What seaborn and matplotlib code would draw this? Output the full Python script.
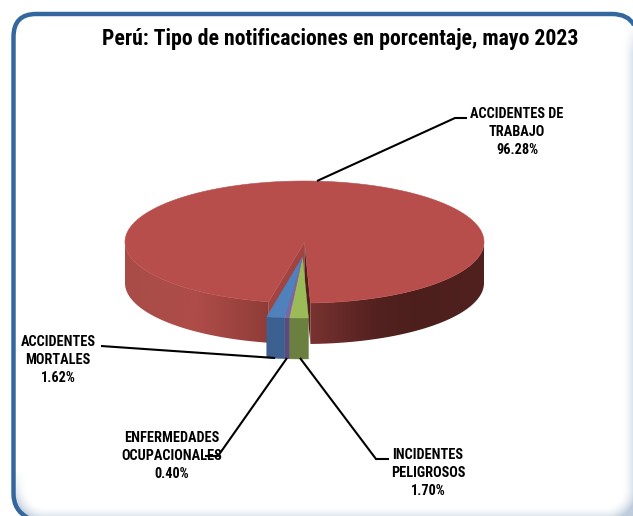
import numpy as np
import seaborn as sns
import matplotlib
matplotlib.use("Agg")
import matplotlib.pyplot as plt
from matplotlib.path import Path
from matplotlib.patches import PathPatch, Polygon
from matplotlib.colors import LinearSegmentedColormap

# ---- data ----
title = "Perú: Tipo de notificaciones en porcentaje, mayo 2023"
categories = ["ACCIDENTES DE\nTRABAJO", "ACCIDENTES\nMORTALES",
              "ENFERMEDADES\nOCUPACIONALES", "INCIDENTES\nPELIGROSOS"]
values = [96.28, 1.62, 0.40, 1.70]
value_labels = ["96.28%", "1.62%", "0.40%", "1.70%"]

# ---- style ----
sns.set_theme(style="white")
FONT = ["Roboto Condensed", "Roboto", "Liberation Sans", "DejaVu Sans"]
plt.rcParams["font.family"] = FONT
top_colors = sns.color_palette(["#b84e4b", "#4f81bd", "#8064a2", "#9bbb59"])
front_colors = sns.color_palette(["#7a3330", "#3c6190", "#5f4a7a", "#6b8040"])

W, H = 633, 516
fig = plt.figure(figsize=(W / 100, H / 100), dpi=100, facecolor="white")
ax = fig.add_axes([0, 0, 1, 1])
ax.set_xlim(0, W)
ax.set_ylim(H, 0)
ax.axis("off")

# ---- frame shadow ----
yy, xx = np.mgrid[0:H, 0:W] + 0.5
rx0, rx1, ry0, ry1, rad = 13.0, 637.0, -100.0, 521.0, 32.0
qx = np.maximum(np.maximum(rx0 + rad - xx, xx - (rx1 - rad)), 0)
qy = np.maximum(ry0 + rad - yy, yy - (ry1 - rad))
qy = np.maximum(qy, 0)
dist = rad - np.hypot(qx, qy)
alpha = np.clip(1 - dist / 15, 0, 1) ** 1.8 * 0.5
alpha *= np.where(xx > 320, 1, np.clip((yy - 470) / 30, 0, 1))
alpha *= np.clip((yy - 24) / 30, 0, 1)
alpha[(xx < 40) & (dist < 0)] = 0
shadow = np.zeros((H, W, 4))
shadow[..., :3] = matplotlib.colors.to_rgb("#7f99b8")
shadow[..., 3] = alpha
ax.imshow(shadow, extent=(0, W, H, 0), zorder=0, aspect="auto", interpolation="bilinear")

# frame stroke
frame = Path(
    [(634, 25), (628, 14), (612, 14), (36, 14), (13.5, 14), (13.5, 37),
     (13.5, 494), (13.5, 510), (28, 518)],
    [Path.MOVETO, Path.CURVE3, Path.CURVE3, Path.LINETO, Path.CURVE3, Path.CURVE3,
     Path.LINETO, Path.CURVE3, Path.CURVE3])
ax.add_patch(PathPatch(frame, fc="none", ec="#34679e", lw=3.2, zorder=1, capstyle="butt"))

# ---- 3D pie geometry derived from the values ----
cx, cy, erx, ery, depth = 304.5, 242.0, 179.5, 61.0, 41.0
off_x, off_y = -2.0, 15.0
front_edge = 1.9  # degrees from the front direction, towards the right
sweeps = np.array(values) / sum(values) * 360.0


def arc(phi0, phi1, dy=0.0, dx=0.0, n=200):
    p = np.radians(np.linspace(phi0, phi1, n))
    return np.column_stack([cx + dx + erx * np.sin(p), cy + dy + ery * np.cos(p)])


right_edge = front_edge
left_edge = front_edge - sum(sweeps[1:])
top_red = arc(right_edge, left_edge + 360, n=500)
apex = np.array([cx, cy])

# cut faces of the notch
e_l = arc(left_edge, left_edge, n=1)[0]
e_r = arc(right_edge, right_edge, n=1)[0]
d = np.array([0, depth])
ax.add_patch(Polygon([apex, e_l, e_l + d, apex + d], fc="#a04341", ec="none", zorder=2))
ax.add_patch(Polygon([apex, e_r, e_r + d, apex + d], fc="#4f1f1c", ec="none", zorder=2.1))

# red side wall with a left-to-right shading
side_cmap = LinearSegmentedColormap.from_list(
    "side",
    [(0.00, "#a94c48"), (0.20, "#ae4c48"), (0.40, "#8f3c38"), (0.51, "#7a3330"),
     (0.70, "#522120"), (0.82, "#4d1f1c"), (1.00, "#50211f")])
grad = np.linspace(0, 1, 512)[None, :]
for a, b in ((right_edge, 90), (left_edge, -90)):
    wall = np.vstack([arc(a, b), arc(b, a, dy=depth)])
    img = ax.imshow(grad, extent=(cx - erx, cx + erx, 360, 200), cmap=side_cmap,
                    aspect="auto", zorder=3, vmin=0, vmax=1)
    img.set_clip_path(Polygon(wall, transform=ax.transData))

# red top face
ax.add_patch(Polygon(np.vstack([apex, top_red]), fc=top_colors[0], ec=top_colors[0],
                     lw=0.4, zorder=4))

# exploded small slices
phi = front_edge
order = [3, 2, 1]
for i in order:
    a, b = phi, phi - sweeps[i]
    phi = b
    top_arc = arc(a, b, dy=off_y, dx=off_x, n=30)
    low_arc = arc(b, a, dy=off_y + depth, dx=off_x, n=30)
    ax.add_patch(Polygon(np.vstack([top_arc, low_arc]), fc=front_colors[i],
                         ec=front_colors[i], lw=0.3, zorder=5))
    tip = apex + np.array([off_x, off_y])
    ax.add_patch(Polygon(np.vstack([tip, top_arc]), fc=top_colors[i],
                         ec=top_colors[i], lw=0.3, zorder=6))

# ---- leader lines ----
leaders = [
    [(317, 181), (455, 118), (467, 118)],
    [(101, 346), (275, 358)],
    [(287, 358), (218, 456), (205, 456)],
    [(300, 358), (376, 459), (389, 459)],
]
for pts in leaders:
    xs, ys = zip(*pts)
    ax.plot(xs, ys, color="black", lw=1.5, zorder=8, solid_joinstyle="miter",
            solid_capstyle="butt", scalex=False, scaley=False)

# ---- labels ----
label_pos = [(517, 132), (58, 360), (172, 456), (428, 473)]
for (x, y), cat, val in zip(label_pos, categories, value_labels):
    ax.text(x, y, f"{cat}\n{val}", ha="center", va="center", fontsize=10.3,
            fontweight="bold", color="black", linespacing=1.34, zorder=9, family=FONT)

ax.text(340, 39, title, ha="center", va="center", fontsize=15.65, fontweight="bold",
        color="black", zorder=9, family=FONT)

fig.savefig("out.png", dpi=100, facecolor="white")
